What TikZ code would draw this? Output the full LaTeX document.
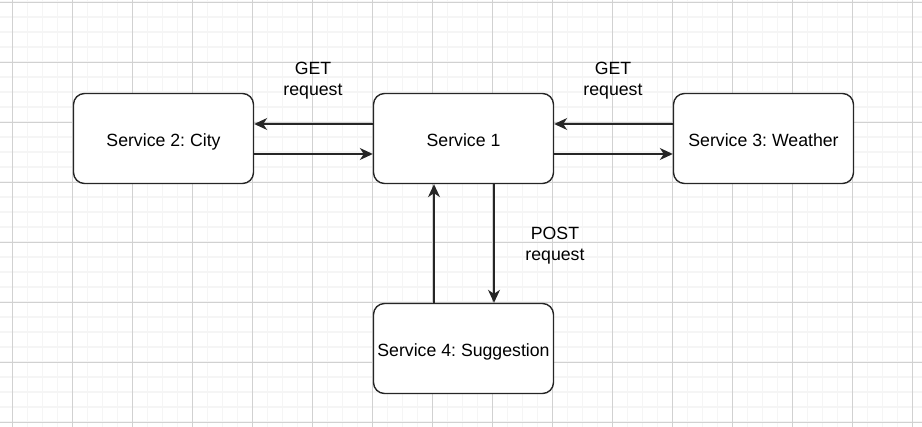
\documentclass[tikz,border=0pt]{standalone}
\usepackage{fontspec}
\setmainfont{Liberation Sans}
\frenchspacing
\usetikzlibrary{arrows.meta}
\begin{document}
\begin{tikzpicture}[x=1pt,y=-1pt,
  svc/.style={draw=black!85, line width=1.4pt, rounded corners=11pt, minimum width=180pt, minimum height=90pt, inner sep=0pt, font=\fontsize{17.7}{21}\selectfont, fill=white, text depth=0pt},
  lbl/.style={align=center, font=\fontsize{17.7}{21}\selectfont, inner sep=0pt},
  arr/.style={draw=black!85, line width=1.4pt, -{Stealth[length=13pt,width=12pt,inset=4pt]}},
  minorgrid/.style={draw=black!4, line width=1.6pt},
  majorgrid/.style={draw=black!18, line width=1pt}]
\useasboundingbox (0,0) rectangle (922,427);
\fill[white] (0,0) rectangle (922,427);
% grid
\foreach \i in {0,...,61} {\draw[minorgrid] (12.3+15*\i-15,0) -- (12.3+15*\i-15,427);}
\foreach \j in {0,...,29} {\draw[minorgrid] (0,2.3+15*\j) -- (922,2.3+15*\j);}
\foreach \i in {0,...,15} {\draw[majorgrid] (12.3+60*\i,0) -- (12.3+60*\i,427);}
\foreach \j in {0,...,7} {\draw[majorgrid] (0,2.3+60*\j) -- (922,2.3+60*\j);}
% services
\node[svc] (s2) at (163.5,138.5) {\raisebox{-3.5pt}{Service 2: City}};
\node[svc] (s1) at (463.5,138.5) {\raisebox{-3.5pt}{Service 1}};
\node[svc] (s3) at (763.5,138.5) {\raisebox{-3.5pt}{Service 3: Weather}};
\node[svc] (s4) at (463.5,348.5) {\raisebox{-3.5pt}{Service 4: Suggestion}};
% connectors
\draw[arr] (s1.west |- 0,124) -- (s2.east |- 0,124);
\draw[arr] (s2.east |- 0,154) -- (s1.west |- 0,154);
\draw[arr] (s3.west |- 0,124) -- (s1.east |- 0,124);
\draw[arr] (s1.east |- 0,154) -- (s3.west |- 0,154);
\draw[arr] (s4.north -| 434,0) -- (s1.south -| 434,0);
\draw[arr] (s1.south -| 494,0) -- (s4.north -| 494,0);
% labels
\node[lbl] (l1) at (313,81) {GET\\request};
\node[lbl] (l2) at (613,81) {GET\\request};
\node[lbl] (l3) at (555,246) {POST\\request};
\end{tikzpicture}
\end{document}
